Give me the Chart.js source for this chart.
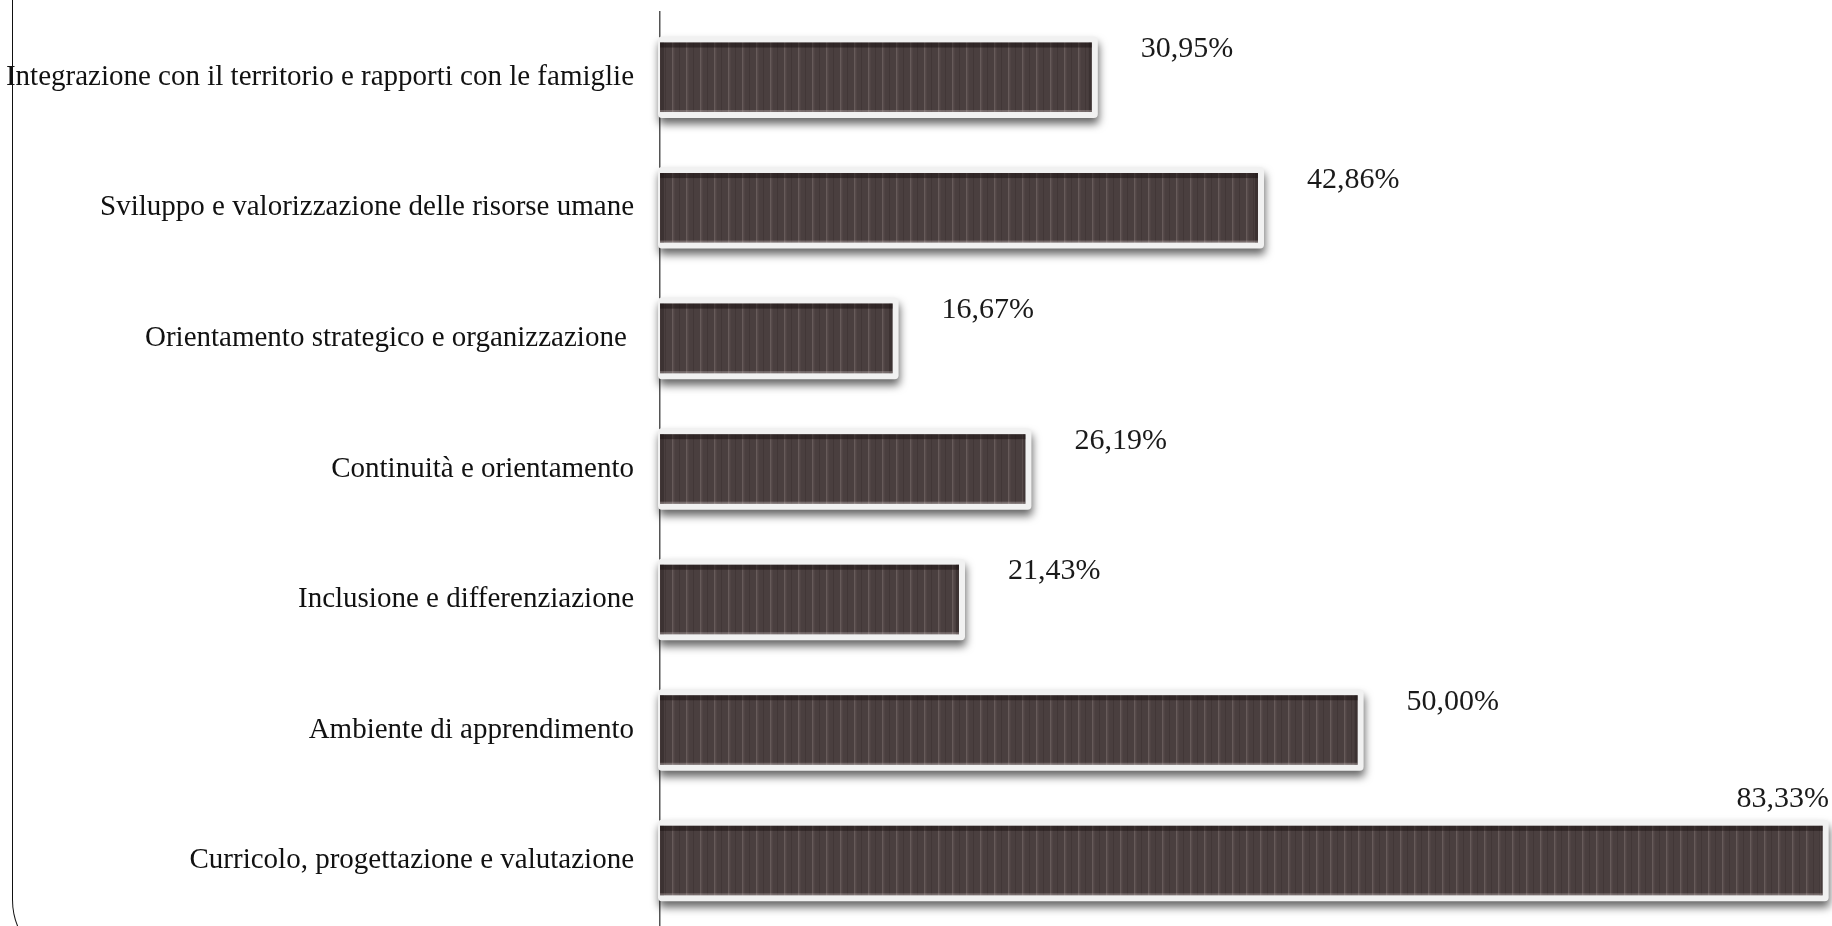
<!DOCTYPE html>
<html><head><meta charset="utf-8">
<script src="https://cdn.jsdelivr.net/npm/chart.js@4.4.1/dist/chart.umd.min.js"></script>
<style>
html,body{margin:0;padding:0;background:#fff;overflow:hidden;}
#wrap{position:relative;width:1832px;height:926px;}
#frame{position:absolute;left:12px;top:-20px;width:900px;height:990px;border-left:1.6px solid #111;border-bottom:1.6px solid #111;border-bottom-left-radius:70px;box-sizing:border-box;pointer-events:none;}
canvas{position:absolute;left:0;top:0;}
</style></head>
<body><div id="wrap"><div id="frame"></div><canvas id="c" width="1832" height="926"></canvas></div>
<script>
const categories = [
  "Integrazione con il territorio e rapporti con le famiglie",
  "Sviluppo e valorizzazione delle risorse umane",
  "Orientamento strategico e organizzazione ",
  "Continuità e orientamento",
  "Inclusione e differenziazione",
  "Ambiente di apprendimento",
  "Curricolo, progettazione e valutazione"
];
const values = [30.95, 42.86, 16.67, 26.19, 21.43, 50.00, 83.33];
const valueLabels = ["30,95%", "42,86%", "16,67%", "26,19%", "21,43%", "50,00%", "83,33%"];

// stripe pattern for the bars
const pc = document.createElement('canvas');
pc.width = 14; pc.height = 4;
const px = pc.getContext('2d');
px.fillStyle = '#4a3f3f'; px.fillRect(0,0,14,4);
px.fillStyle = '#675b5a'; px.fillRect(0,0,1.5,4);
px.fillStyle = '#564a4a'; px.fillRect(1.5,0,1,4);
px.fillStyle = '#423737'; px.fillRect(7,0,1,4);
const ctx0 = document.getElementById('c').getContext('2d');
const stripe = ctx0.createPattern(pc, 'repeat');

const barDeco = {
  id: 'barDeco',
  beforeDatasetsDraw(chart) {
    const ctx = chart.ctx;
    const meta = chart.getDatasetMeta(0);
    ctx.save();
    meta.data.forEach(b => {
      const x0 = b.base, x1 = b.x, h = b.height;
      const top = b.y - h/2;
      ctx.shadowColor = 'rgba(0,0,0,0.6)';
      ctx.shadowBlur = 8;
      ctx.shadowOffsetY = 6;
      ctx.shadowOffsetX = 1;
      ctx.fillStyle = '#f1f1f1';
      ctx.beginPath();
      ctx.roundRect(x0 - 2, top - 6, (x1 - x0) + 8, h + 12, 4);
      ctx.fill();
    });
    ctx.restore();
  },
  afterDatasetsDraw(chart) {
    const ctx = chart.ctx;
    const meta = chart.getDatasetMeta(0);
    const area = chart.chartArea;
    ctx.save();
    meta.data.forEach((b, i) => {
      const x0 = b.base, x1 = b.x, h = b.height;
      const top = b.y - h/2;
      // bevel
      ctx.fillStyle = 'rgba(20,10,10,0.45)';
      ctx.fillRect(x0, top, x1 - x0, 5);
      ctx.fillStyle = 'rgba(20,10,10,0.25)';
      ctx.fillRect(x0, top, 4, h);
      ctx.fillStyle = 'rgba(20,10,10,0.25)';
      ctx.fillRect(x1 - 3, top, 3, h);
      ctx.fillStyle = 'rgba(200,190,190,0.35)';
      ctx.fillRect(x0, top + h - 2, x1 - x0, 2);
      // value label
      ctx.font = '30px "Liberation Serif", serif';
      ctx.fillStyle = '#1a1a1a';
      ctx.textBaseline = 'middle';
      const txt = valueLabels[i];
      const w = ctx.measureText(txt).width;
      let tx = x1 + 49, ty = b.y - 28;
      if (tx + w > area.right) {
        ctx.textAlign = 'right';
        tx = area.right - 3; ty = top - 27;
      } else {
        ctx.textAlign = 'left';
      }
      ctx.fillText(txt, tx, ty);
    });
    ctx.restore();
  }
};

new Chart(document.getElementById('c'), {
  type: 'bar',
  data: {
    labels: categories,
    datasets: [{
      data: values,
      backgroundColor: stripe,
      borderWidth: 0,
      barPercentage: 0.75,
      categoryPercentage: 0.71
    }]
  },
  options: {
    indexAxis: 'y',
    responsive: false,
    animation: false,
    devicePixelRatio: 1,
    layout: { padding: { top: 12, left: 0, right: 0, bottom: 0 } },
    plugins: { legend: { display: false }, tooltip: { enabled: false } },
    scales: {
      x: { display: false, min: 0, max: 84 },
      y: {
        afterFit(s) { s.width = 660; },
        grid: { display: false, drawTicks: true, tickLength: 26, tickColor: 'rgba(0,0,0,0)' },
        border: { display: true, color: '#555', width: 1.5 },
        ticks: { padding: 0, color: '#111', font: { family: '"Liberation Serif", serif', size: 29, lineHeight: 0.01 } }
      }
    }
  },
  plugins: [barDeco]
});
</script>
</body></html>
